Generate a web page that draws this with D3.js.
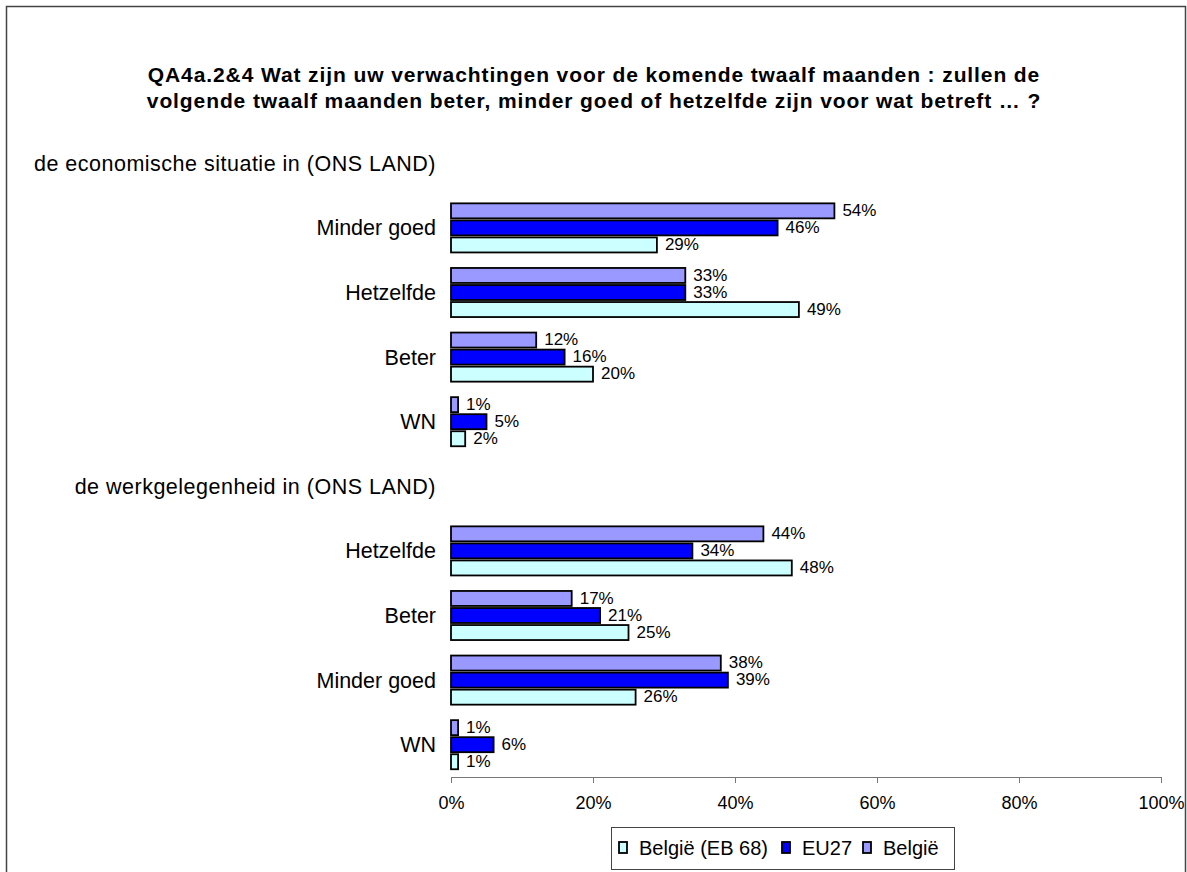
<!DOCTYPE html>
<html>
<head>
<meta charset="utf-8">
<script src="https://cdn.jsdelivr.net/npm/d3@7"></script>
<style>
  body { margin: 0; background: #fff; }
  svg { display: block; font-family: "Liberation Sans", Arial, sans-serif; }
  .bar { stroke: #000; stroke-width: 1.8px; }
  .axis path, .axis line { stroke: #777; }
</style>
</head>
<body>
<div class="chart"></div>
<script>
// Values (percent)
const titleLines = [
  "QA4a.2&4 Wat zijn uw verwachtingen voor de komende twaalf maanden : zullen de",
  "volgende twaalf maanden beter, minder goed of hetzelfde zijn voor wat betreft \u2026 ?"
];
const sectionTitles = ["de economische situatie in (ONS LAND)", "de werkgelegenheid in (ONS LAND)"];

const econCategories = ["Minder goed", "Hetzelfde", "Beter", "WN"];
const econBelgie = [54, 33, 12, 1];
const econEU27 = [46, 33, 16, 5];
const econBelgieEB68 = [29, 49, 20, 2];

const workCategories = ["Hetzelfde", "Beter", "Minder goed", "WN"];
const workBelgie = [44, 17, 38, 1];
const workEU27 = [34, 21, 39, 6];
const workBelgieEB68 = [48, 25, 26, 1];

const seriesNames = ["België", "EU27", "België (EB 68)"];   // top to bottom inside a group
const seriesColors = ["#9999FF", "#0000FF", "#CCFFFF"];
const legendOrder = ["België (EB 68)", "EU27", "België"];
const xTicks = [0, 20, 40, 60, 80, 100];

const width = 1187, height = 872;

// one row per slot: a section header followed by its categories
const rows = [];
function addSection(i, cats, a, b, c) {
  rows.push({key: "s" + i, label: sectionTitles[i], header: true});
  cats.forEach((cat, j) => rows.push({
    key: "s" + i + "-" + j, label: cat, header: false,
    values: [a[j], b[j], c[j]]
  }));
}
addSection(0, econCategories, econBelgie, econEU27, econBelgieEB68);
addSection(1, workCategories, workBelgie, workEU27, workBelgieEB68);

const svg = d3.select(".chart").append("svg")
  .attr("width", width)
  .attr("height", height);

// outer frame
svg.append("rect")
  .attr("x", 6.5).attr("y", 6.5)
  .attr("width", 1179).attr("height", 900)
  .attr("fill", "none").attr("stroke", "#444").attr("stroke-width", 1.5);

// title
svg.append("g").selectAll("text")
  .data(titleLines)
  .enter().append("text")
    .attr("x", 594)
    .attr("y", (d, i) => 82 + i * 26)
    .attr("text-anchor", "middle")
    .style("font-size", "21px")
    .style("font-weight", "bold")
    .style("letter-spacing", "0.9px")
    .text(d => d);

const x = d3.scaleLinear().domain([0, 100]).range([451, 1161]);

const y = d3.scaleBand()
  .domain(rows.map(r => r.key))
  .range([131, 777])
  .paddingInner(0.24)
  .paddingOuter(0.12);

const yInner = d3.scaleBand()
  .domain(seriesNames)
  .range([0, y.bandwidth()])
  .paddingInner(0.12);

// category and section labels, right aligned against the plot
svg.append("g").selectAll("text")
  .data(rows)
  .enter().append("text")
    .attr("x", 436)
    .attr("y", d => y(d.key) + y.bandwidth() / 2)
    .attr("dy", "0.35em")
    .attr("text-anchor", "end")
    .style("font-size", "21.5px")
    .style("letter-spacing", d => d.header ? "0.5px" : null)
    .text(d => d.label);

// bars
const groups = svg.append("g").selectAll(".group")
  .data(rows.filter(r => !r.header))
  .enter().append("g")
    .attr("class", "group")
    .attr("transform", d => "translate(0," + y(d.key) + ")");

const cells = d => d.values.map((v, i) => ({series: seriesNames[i], color: seriesColors[i], value: v}));

groups.selectAll("rect")
  .data(cells)
  .enter().append("rect")
    .attr("class", "bar")
    .attr("x", x(0))
    .attr("y", d => yInner(d.series))
    .attr("width", d => x(d.value) - x(0))
    .attr("height", yInner.bandwidth())
    .attr("fill", d => d.color);

groups.selectAll("text")
  .data(cells)
  .enter().append("text")
    .attr("x", d => x(d.value) + 8)
    .attr("y", d => yInner(d.series) + yInner.bandwidth() / 2)
    .attr("dy", "0.3em")
    .style("font-size", "17px")
    .text(d => d.value + "%");

// x axis
const axis = svg.append("g")
  .attr("class", "axis")
  .attr("transform", "translate(0,777)")
  .call(d3.axisBottom(x).tickValues(xTicks).tickSize(6).tickSizeOuter(0).tickPadding(13)
    .tickFormat(d => d + "%"));
axis.select(".domain").attr("stroke", "#777");
axis.selectAll("text")
  .attr("fill", "#000")
  .style("font-size", "18px")
  .style("font-family", "\"Liberation Sans\", Arial, sans-serif");

// legend
const legend = svg.append("g").attr("transform", "translate(611,827)");
legend.append("rect")
  .attr("x", 0.5).attr("y", 0.5)
  .attr("width", 343).attr("height", 42)
  .attr("fill", "#fff").attr("stroke", "#444");

const legendX = [8, 171, 252];
const legendItems = legend.selectAll(".item")
  .data(legendOrder)
  .enter().append("g")
    .attr("class", "item")
    .attr("transform", (d, i) => "translate(" + legendX[i] + ",15)");

legendItems.append("rect")
  .attr("class", "bar")
  .attr("width", 8).attr("height", 11)
  .attr("fill", d => seriesColors[seriesNames.indexOf(d)]);

legendItems.append("text")
  .attr("x", 20)
  .attr("y", 5.5)
  .attr("dy", "0.35em")
  .style("font-size", "20px")
  .text(d => d);
</script>
</body>
</html>
